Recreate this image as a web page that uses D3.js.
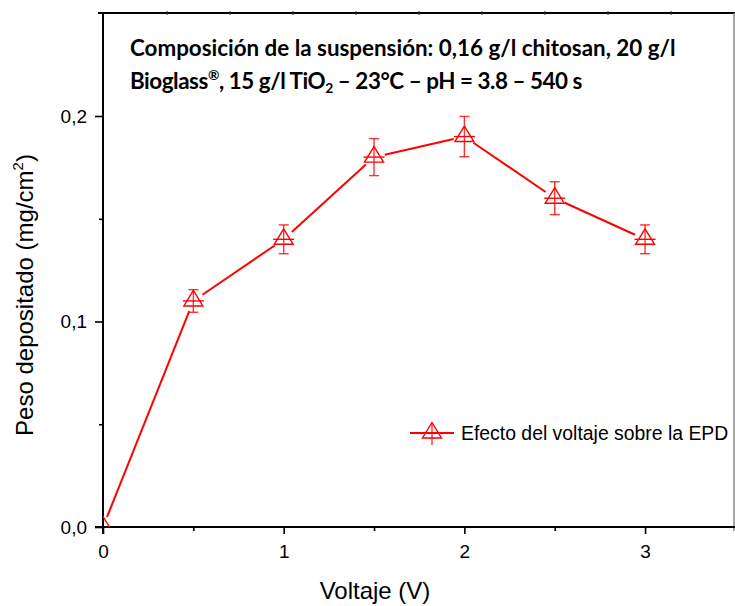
<!DOCTYPE html>
<html><head><meta charset="utf-8">
<script src="https://cdn.jsdelivr.net/npm/d3@7"></script>
<style>body{margin:0;background:#fff}svg{display:block}</style>
</head><body><svg id="c" width="735" height="606"></svg>
<script>
const voltage = [0, 0.5, 1, 1.5, 2, 2.5, 3];
const weight = [0, 0.11, 0.14, 0.18, 0.19, 0.16, 0.14];
const weightErr = [0, 0.0055, 0.007, 0.009, 0.0098, 0.008, 0.007];
const xTickValues = [0, 1, 2, 3];
const xMinorTicks = [0.5, 1.5, 2.5];
const yTickValues = [0, 0.1, 0.2];
const yTickLabels = ["0,0", "0,1", "0,2"];
const yMinorTicks = [0.05, 0.15];
const seriesName = "Efecto del voltaje sobre la EPD";
const xTitle = "Voltaje (V)";

const svg = d3.select("#c");
const x = d3.scaleLinear().domain([0, 3.5]).range([103, 735.4]);
const y = d3.scaleLinear().domain([0, 0.25]).range([527, 13.25]);
const RED = "#ff0000";

// clip
svg.append("defs").append("clipPath").attr("id", "pc")
  .append("rect").attr("x", 103).attr("y", 12).attr("width", 640).attr("height", 515);

// frame: top and right
svg.append("line").attr("x1", 98).attr("x2", 735).attr("y1", 13).attr("y2", 13)
  .attr("stroke", "#000").attr("stroke-width", 2);
const topMarks = d3.range(9).map(k => 167 + 63 * k);
svg.selectAll(".tm").data(topMarks).join("line")
  .attr("x1", d => d).attr("x2", d => d).attr("y1", 11).attr("y2", 15)
  .attr("stroke", "#333").attr("stroke-width", 1);
svg.append("line").attr("x1", 734).attr("x2", 734).attr("y1", 13).attr("y2", 531)
  .attr("stroke", "#888").attr("stroke-width", 1.5);

// axes
const fmt = d => yTickLabels[yTickValues.indexOf(d)];
const gx = svg.append("g").attr("transform", "translate(0,527)")
  .call(d3.axisBottom(x).tickValues(xTickValues).tickSize(7).tickPadding(11).tickFormat(d3.format("d")));
const gxm = svg.append("g").attr("transform", "translate(0,527)")
  .call(d3.axisBottom(x).tickValues(xMinorTicks).tickSize(4).tickFormat(""));
const gy = svg.append("g").attr("transform", "translate(103,0)")
  .call(d3.axisLeft(y).tickValues(yTickValues).tickSize(8).tickPadding(8).tickFormat(fmt));
const gym = svg.append("g").attr("transform", "translate(103,0)")
  .call(d3.axisLeft(y).tickValues(yMinorTicks).tickSize(4).tickFormat(""));
[gx, gxm, gy, gym].forEach(g => {
  g.select(".domain").remove();
  g.selectAll(".tick line").attr("stroke", "#000").attr("stroke-width", 1.6);
  g.selectAll(".tick text").attr("fill", "#000")
    .attr("font-family", "Liberation Sans, Arial, sans-serif").attr("font-size", 19);
});

svg.append("line").attr("x1", 95).attr("x2", 735).attr("y1", 527).attr("y2", 527)
  .attr("stroke", "#000").attr("stroke-width", 2);
svg.append("line").attr("x1", 103).attr("x2", 103).attr("y1", 12).attr("y2", 534)
  .attr("stroke", "#000").attr("stroke-width", 2);

// axis titles
svg.append("text").attr("x", 375).attr("y", 599).attr("text-anchor", "middle")
  .attr("font-family", "Liberation Sans, Arial, sans-serif").attr("font-size", 24)
  .text(xTitle);
const yt = svg.append("text").attr("transform", "translate(33,295) rotate(-90)")
  .attr("text-anchor", "middle")
  .attr("font-family", "Liberation Sans, Arial, sans-serif").attr("font-size", 24);
yt.append("tspan").text("Peso depositado (mg/cm");
yt.append("tspan").attr("font-size", 15).attr("dy", -10).text("2");
yt.append("tspan").attr("dy", 10).text(")");

// annotation title
const tfont = "Lato, 'Open Sans', sans-serif";
const t1 = svg.append("text").attr("x", 130).attr("y", 56)
  .attr("font-family", tfont).attr("font-weight", 700).attr("font-size", 20)
  .text("Composición de la suspensión: 0,16 g/l chitosan, 20 g/l");
let fs = 20 * 546 / t1.node().getComputedTextLength();
t1.attr("font-size", fs);
const t2 = svg.append("text").attr("x", 130).attr("y", 89)
  .attr("font-family", tfont).attr("font-weight", 700).attr("font-size", fs);
t2.append("tspan").text("Bioglass");
t2.append("tspan").attr("font-size", fs * 0.62).attr("dy", -fs * 0.38).text("®");
t2.append("tspan").attr("dy", fs * 0.38).text(", 15 g/l TiO");
t2.append("tspan").attr("font-size", fs * 0.62).attr("dy", fs * 0.2).text("2");
t2.append("tspan").attr("dy", -fs * 0.2).text(" – 23°C – pH = 3.8 – 540 s");
const w2 = t2.node().getComputedTextLength();
const n2 = t2.text().length;
t2.attr("letter-spacing", (452 - w2) / n2);

// data
const pts = voltage.map((v, i) => ({ px: x(v), py: y(weight[i]), v: weight[i], e: weightErr[i], xv: v }));
const plot = svg.append("g").attr("clip-path", "url(#pc)");
const gap = 11;
const segs = [];
for (let i = 0; i < pts.length - 1; i++) {
  const a = pts[i], b = pts[i + 1];
  const dx = b.px - a.px, dy = b.py - a.py, L = Math.hypot(dx, dy);
  const ux = dx / L, uy = dy / L;
  segs.push([a.px + ux * gap, a.py + uy * gap, b.px - ux * gap, b.py - uy * gap]);
}
plot.selectAll(".seg").data(segs).join("line")
  .attr("x1", d => d[0]).attr("y1", d => d[1]).attr("x2", d => d[2]).attr("y2", d => d[3])
  .attr("stroke", RED).attr("stroke-width", 2);

const err = plot.selectAll(".err").data(pts.filter(p => p.e > 0)).join("g")
  .attr("stroke", RED).attr("stroke-width", 1.4).attr("stroke-opacity", 0.8);
err.append("line").attr("x1", d => d.px).attr("x2", d => d.px)
  .attr("y1", d => y(d.v + d.e)).attr("y2", d => y(d.v - d.e));
err.append("line").attr("x1", d => d.px - 5).attr("x2", d => d.px + 5)
  .attr("y1", d => y(d.v + d.e)).attr("y2", d => y(d.v + d.e));
err.append("line").attr("x1", d => d.px - 5).attr("x2", d => d.px + 5)
  .attr("y1", d => y(d.v - d.e)).attr("y2", d => y(d.v - d.e));

const triPath = "M0,-10.5L9.5,5L-9.5,5Z";
const mk = plot.selectAll(".mk").data(pts).join("g")
  .attr("transform", d => `translate(${d.px},${d.py})`)
  .attr("stroke", RED).attr("stroke-width", 1.4).attr("fill", "none");
mk.append("path").attr("d", triPath);
mk.filter(d => d.e > 0).append("line").attr("x1", -10.5).attr("x2", 10.5).attr("y1", 0).attr("y2", 0);

// legend
const lg = svg.append("g").attr("transform", "translate(432,433)");
lg.append("line").attr("x1", -22).attr("x2", 22).attr("y1", 0).attr("y2", 0)
  .attr("stroke", RED).attr("stroke-width", 2);
lg.append("path").attr("d", triPath).attr("stroke", RED).attr("stroke-width", 1.4).attr("fill", "none");
lg.append("line").attr("x1", 0).attr("x2", 0).attr("y1", -9).attr("y2", 12)
  .attr("stroke", RED).attr("stroke-width", 1.4).attr("stroke-opacity", 0.8);
svg.append("text").attr("x", 461).attr("y", 440)
  .attr("font-family", "Liberation Sans, Arial, sans-serif").attr("font-size", 19.4)
  .text(seriesName);
</script></body></html>
